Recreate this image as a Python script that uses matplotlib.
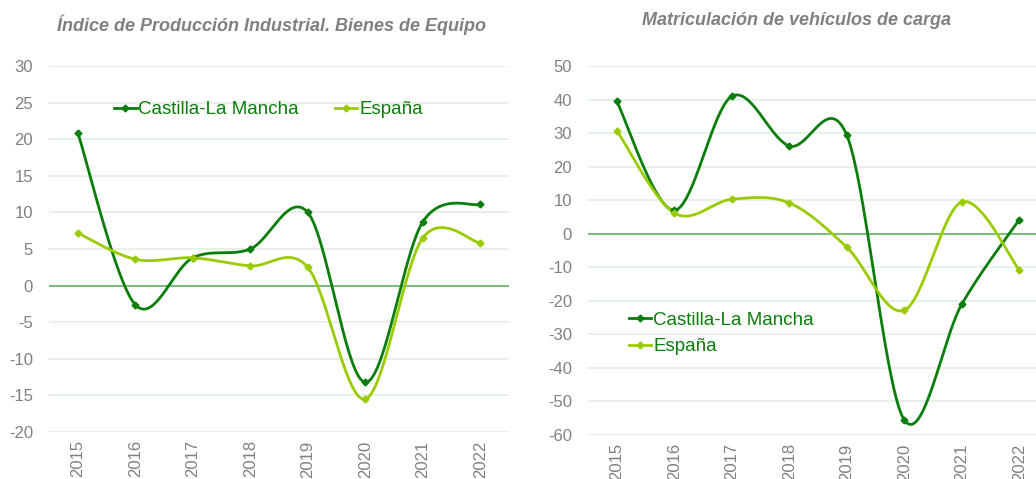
import numpy as np
import matplotlib.pyplot as plt

years = ["2015", "2016", "2017", "2018", "2019", "2020", "2021", "2022"]

ipi_clm = [20.9, -2.6, 3.8, 5.0, 10.0, -13.2, 8.7, 11.1]
ipi_esp = [7.2, 3.6, 3.8, 2.7, 2.5, -15.5, 6.5, 5.8]

mat_clm = [39.5, 7.0, 41.0, 26.2, 29.4, -55.5, -21.0, 4.2]
mat_esp = [30.8, 6.2, 10.3, 9.2, -4.0, -22.8, 9.5, -10.8]

DARK = "#0a7d0a"
LIGHT = "#99cc00"
GREY = "#808080"

plt.rcParams["font.family"] = ["Liberation Sans", "DejaVu Sans"]
plt.rcParams["axes.unicode_minus"] = False


def smooth(y, n=40):
    # excel-like smoothed line (bezier through the points)
    y = np.asarray(y, dtype=float)
    x = np.arange(len(y), dtype=float)
    p = np.column_stack([x, y])
    xs, ys = [], []
    for i in range(len(p) - 1):
        p0 = p[i - 1] if i > 0 else p[i]
        p3 = p[i + 2] if i + 2 < len(p) else p[i + 1]
        c1 = p[i] + (p[i + 1] - p0) / 6
        c2 = p[i + 1] - (p3 - p[i]) / 6
        t = np.linspace(0, 1, n)[:, None]
        b = ((1 - t) ** 3) * p[i] + 3 * ((1 - t) ** 2) * t * c1 + 3 * (1 - t) * t ** 2 * c2 + t ** 3 * p[i + 1]
        xs.append(b[:, 0])
        ys.append(b[:, 1])
    return np.concatenate(xs), np.concatenate(ys)


def draw(ax, clm, esp, ylim, step):
    ax.set_xlim(-0.5, 7.5)
    ax.set_ylim(*ylim)
    ax.set_yticks(np.arange(ylim[0], ylim[1] + 1, step))
    for v in np.arange(ylim[0], ylim[1] + 1, step):
        if v != 0:
            ax.axhline(v, color="#e3f0e3", lw=1.2, zorder=0)
    ax.axhline(0, color="#6db86d", lw=1.3, zorder=1)
    for vals, col, lab in [(clm, DARK, "Castilla-La Mancha"), (esp, LIGHT, "España")]:
        sx, sy = smooth(vals)
        ax.plot(sx, sy, color=col, lw=2.0, zorder=3)
        ax.plot(range(len(vals)), vals, ls="none", marker="D", ms=3.5, color=col, zorder=4)
        ax.plot([], [], color=col, lw=2.0, marker="D", ms=3.5, label=lab)
    ax.set_xticks(range(len(years)))
    ax.set_xticklabels(years, rotation=90, va="top")
    for s in ax.spines.values():
        s.set_visible(False)
    ax.tick_params(length=0, labelsize=12, colors=GREY, pad=11.5)
    ax.tick_params(axis="x", pad=6)


fig = plt.figure(figsize=(10.36, 4.79), dpi=100)

ax1 = fig.add_axes([0.0473, 0.0981, 0.444, 0.764])
draw(ax1, ipi_clm, ipi_esp, (-20, 30), 5)
leg1 = ax1.legend(loc="upper left", bbox_to_anchor=(0.125, 0.925), ncol=2, frameon=False,
                  fontsize=13.5, handlelength=1.2, handletextpad=0.1, columnspacing=1.9,
                  borderaxespad=0)
for t in leg1.get_texts():
    t.set_color(DARK)

ax2 = fig.add_axes([0.5676, 0.0919, 0.444, 0.770])
draw(ax2, mat_clm, mat_esp, (-60, 50), 10)
leg2 = ax2.legend(loc="upper left", bbox_to_anchor=(0.072, 0.355), ncol=1, frameon=False,
                  fontsize=13.5, handlelength=1.2, handletextpad=0.1, labelspacing=0.5,
                  borderaxespad=0)
for t in leg2.get_texts():
    t.set_color(DARK)

fig.text(0.262, 0.948, "Índice de Producción Industrial. Bienes de Equipo", ha="center", va="center",
         fontsize=13, fontweight="bold", style="italic", color=GREY)
fig.text(0.769, 0.958, "Matriculación de vehículos de carga", ha="center", va="center",
         fontsize=13, fontweight="bold", style="italic", color=GREY)

fig.savefig("out.png", dpi=100)
